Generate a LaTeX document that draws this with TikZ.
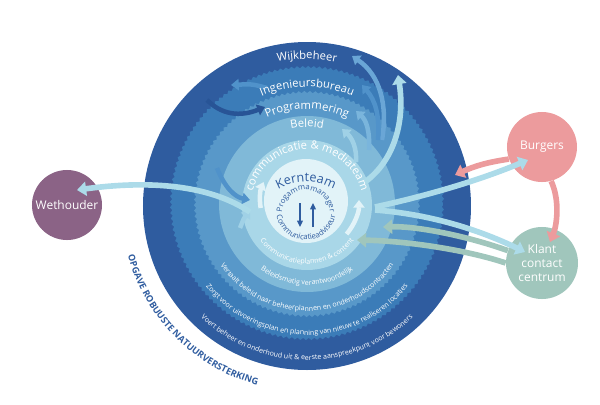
\documentclass[tikz,border=0pt]{standalone}
\usepackage{fontspec}
\setmainfont{Open Sans}
\usepackage{tikz}
\usetikzlibrary{arrows.meta,decorations.text,decorations.pathmorphing}
\definecolor{ringa}{RGB}{47,92,159}
\definecolor{ringb}{RGB}{59,124,184}
\definecolor{ringc}{RGB}{88,152,201}
\definecolor{ringd}{RGB}{128,185,216}
\definecolor{ringe}{RGB}{169,215,232}
\definecolor{corecol}{RGB}{226,243,248}
\definecolor{arrowlight}{RGB}{172,219,233}
\definecolor{arrowwijk}{RGB}{106,166,214}
\definecolor{arrowing}{RGB}{80,146,202}
\definecolor{arrowprog}{RGB}{122,181,220}
\definecolor{arrowbel}{RGB}{160,209,230}
\definecolor{arrowdark}{RGB}{40,84,150}
\definecolor{burgcol}{RGB}{236,155,157}
\definecolor{kcccol}{RGB}{160,198,188}
\definecolor{wetcol}{RGB}{139,99,134}

\tikzset{
  jagged/.style={decorate,decoration={zigzag,segment length=4pt,amplitude=0.8pt}},
  flow/.style={line width=4pt,-{Triangle[width=10pt,length=6.5pt]}},
  innerflow/.style={line width=3.2pt,-{Triangle[width=8pt,length=5.5pt]}},
  coreflow/.style={line width=1pt,-{Triangle[width=4pt,length=4.5pt]}},
  ext/.style={circle,minimum size=1.75cm,inner sep=0pt,text=white,align=center,font=\fontsize{8.5}{10}\selectfont},
  toplabel/.style={decorate,decoration={text along path,text align=center,text color=white,text={|\fontsize{8}{9}\selectfont|#1}}},
  smalllabel/.style={decorate,decoration={text along path,text align=center,text color=white,text={|\fontsize{5}{6}\selectfont|#1}}},
  corelabel/.style={decorate,decoration={text along path,text align=center,text color=ringa,text={#1}}}
}

\begin{document}
\begin{tikzpicture}[x=0.025cm,y=0.025cm]
        \useasboundingbox (-307,-198) rectangle (293,206);

        % rings
        \fill[ringa] (0,0) circle[radius=164];
        \fill[ringb,jagged] (0,3) circle[radius=136];
        \fill[ringc,jagged] (0,2) circle[radius=112];
        \fill[ringd] (0,2) circle[radius=88];
        \fill[ringe] (0,1) circle[radius=65];
        \fill[corecol] (-1,5) circle[radius=42];

        % arrows to the bands
        \draw[innerflow,arrowwijk] (75,66) .. controls (81,101) and (73,131) .. (45,150);
        \draw[innerflow,arrowing] (71,66) .. controls (73,91) and (68,106) .. (55,121);
        \draw[innerflow,arrowprog] (62,56) .. controls (63,76) and (59,86) .. (49,95);
        \draw[innerflow,arrowbel] (49,44) .. controls (50,58) and (45,68) .. (35,77);
        \draw[flow,arrowlight] (58,24) .. controls (88,46) and (98,86) .. (91,131);
        \draw[innerflow,arrowdark] (-100,106) .. controls (-82,88) and (-62,91) .. (-42,99);
        \draw[innerflow,arrowing] (-40,118) .. controls (-55,122) .. (-76,121);
        \draw[innerflow,arrowing] (-90,38) .. controls (-82,18) and (-72,9) .. (-57,6);
        \draw[innerflow,arrowbel] (-67,-22) .. controls (-63,-12) .. (-57,-4);

        % arrows round the core
        \draw[innerflow,corecol] ([shift={(-1,6)}]-40:53) arc[start angle=-40,end angle=0,radius=53];
        \draw[innerflow,corecol] ([shift={(-1,6)}]190:46) arc[start angle=190,end angle=157,radius=46];
        \draw[coreflow,ringa] (-7,3) -- (-7,-21);
        \draw[coreflow,ringa] (6,-21) -- (6,3);

        % band names
        \path[toplabel=Wijkbeheer] (160:147) arc[start angle=160,end angle=20,radius=147];
        \path[toplabel=Ingenieursbureau] (160:119) arc[start angle=160,end angle=20,radius=119];
        \path[toplabel=Programmering] (160:97) arc[start angle=160,end angle=20,radius=97];
        \path[toplabel=Beleid] (160:79) arc[start angle=160,end angle=20,radius=79];
        \path[toplabel={communicatie {\&} mediateam}] ([shift={(0,1)}]178:56) arc[start angle=178,end angle=2,radius=56];

        % core
        \path[corelabel={|\fontsize{9}{10}\selectfont|Kernteam}] ([shift={(-1,-34)}]130:58) arc[start angle=130,end angle=50,radius=58];
        \path[corelabel={|\fontsize{5.5}{6}\selectfont|Progammamanager}] ([shift={(-1,-8)}]190:24) arc[start angle=190,end angle=-10,radius=24];
        \path[corelabel={|\fontsize{5.5}{6}\selectfont|Communicatieadviseur}] ([shift={(-1,-4)}]175:30) arc[start angle=175,end angle=365,radius=30];

        % tasks
        \path[smalllabel={Communicatieplannen {\&} content}] ([shift={(0,1)}]190:59) arc[start angle=190,end angle=350,radius=59];
        \path[smalllabel={Beleidsmatig verantwoordelijk}] (200:79) arc[start angle=200,end angle=340,radius=79];
        \path[smalllabel={Vertaalt beleid naar beheerplannen en onderhoudscontracten}] (190:105) arc[start angle=190,end angle=350,radius=105];
        \path[smalllabel={Zorgt voor uitvoeringsplan en planning van nieuw te realiseren locaties}] (190:129) arc[start angle=190,end angle=350,radius=129];
        \path[smalllabel={Voert beheer en onderhoud uit {\&} eerste aanspreekpunt voor bewoners}] (190:154) arc[start angle=190,end angle=350,radius=154];
        \path[corelabel={|\fontsize{6.5}{7}\selectfont\bfseries|OPGAVE ROBUUSTE NATUURVERSTERKING}] (185:186) arc[start angle=185,end angle=265,radius=186];

        % partners
        \node[ext,fill=wetcol] (wethouder) at (-240,1) {Wethouder};
        \node[ext,fill=burgcol] (burgers) at (235,59) {Burgers};
        \node[ext,fill=kcccol,minimum size=1.8cm] (kcc) at (235,-57) {Klant\\contact\\centrum};

        % links
        \coordinate (ring-w) at (-57,-6);
        \coordinate (ring-e1) at (68,-1);
        \coordinate (ring-e2) at (68,-4);
        \coordinate (ring-e3) at (148,31);
        \coordinate (ring-e4) at (76,-21);
        \coordinate (ring-e5) at (50,-34);
        \draw[flow,arrowlight] (ring-w) .. controls (-97,21) and (-157,26) .. ([shift={(10,15)}]wethouder.center);
        \draw[flow,burgcol] (burgers.200) to[bend right=8] (ring-e3);
        \draw[flow,arrowlight] (ring-e1) .. controls (123,11) and (173,26) .. ([shift={(-14,-13)}]burgers.center);
        \draw[flow,burgcol] (burgers.-75) .. controls (253,6) and (250,-19) .. ([shift={(8,21)}]kcc.center);
        \draw[flow,kcccol] (kcc.160) .. controls (160,-30) and (110,-20) .. (ring-e4);
        \draw[flow,kcccol] (kcc.180) .. controls (160,-44) and (100,-35) .. (ring-e5);
        \draw[flow,arrowlight] (ring-e2) .. controls (133,-9) and (183,-29) .. ([shift={(-17,11)}]kcc.center);
    \end{tikzpicture}
\end{document}
